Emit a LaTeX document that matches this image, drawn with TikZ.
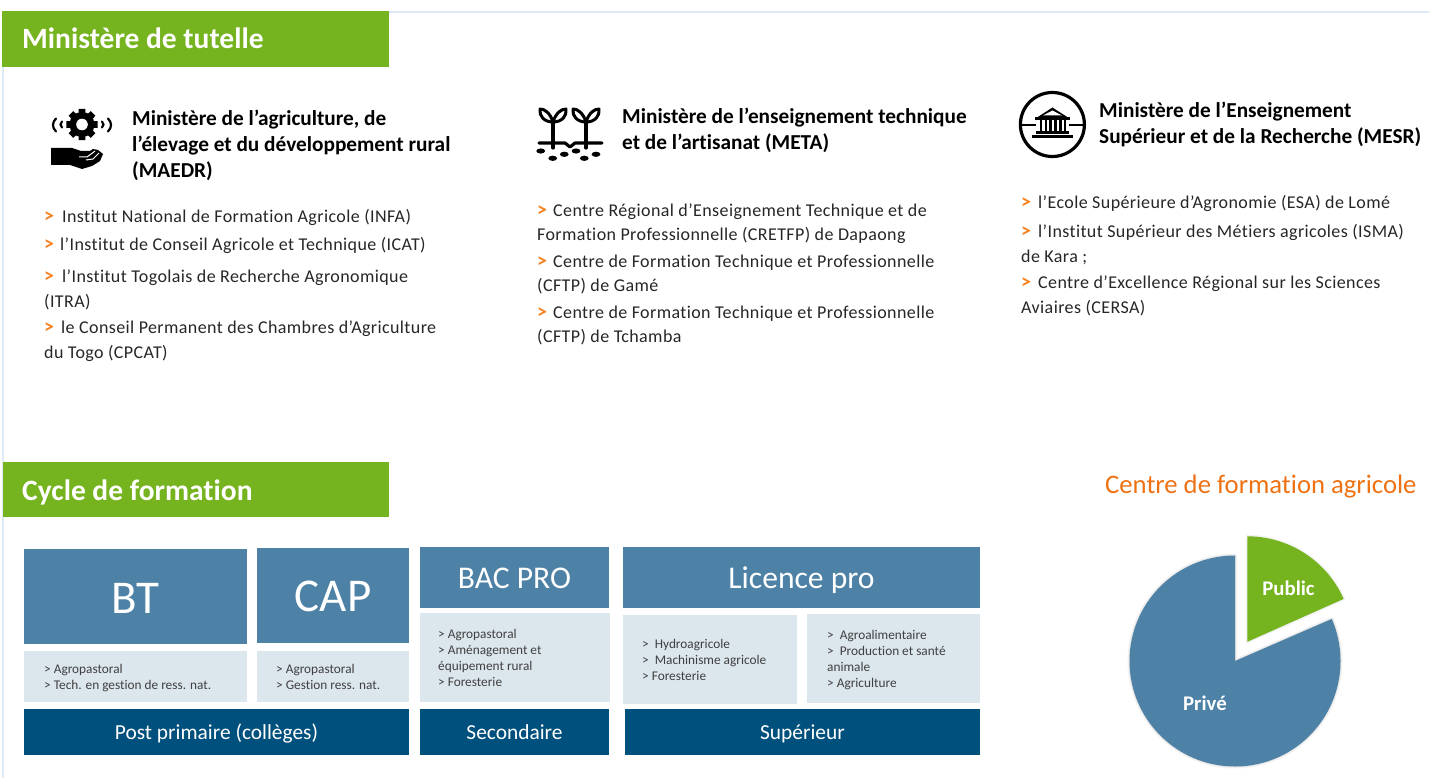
\documentclass[tikz,border=0pt]{standalone}
\usepackage{fontspec}
\setmainfont[Ligatures=NoCommon]{Carlito}
\definecolor{gr}{HTML}{75B31F}
\definecolor{mid}{HTML}{4D81A5}
\definecolor{lt}{HTML}{DCE6ED}
\definecolor{dk}{HTML}{00507D}
\definecolor{org}{HTML}{F58220}
\definecolor{ttl}{HTML}{EE7214}
\definecolor{rule}{HTML}{DEEBF7}
\definecolor{ink}{HTML}{262626}
\definecolor{inks}{HTML}{404040}
\newcommand{\fs}[1]{\fontsize{#1}{#1}\selectfont}
\newcommand{\gt}[1]{\makebox[#1pt][l]{\textcolor{org}{\fs{20}\bfseries >}}}
\tikzset{x=1pt,y=-1pt,
 every node/.style={inner sep=0pt},
 txt/.style={anchor=base west,text=ink,font=\fs{18}\addfontfeature{LetterSpace=2.2},yshift=-0.5pt},
 head/.style={anchor=base west,text=black,font=\fs{21.3}\bfseries,yshift=-1pt},
 small/.style={anchor=base west,text=inks,font=\fs{13.3}},
 banner/.style={anchor=base west,text=white,font=\fs{29.5}\bfseries,yshift=-1pt},
 big/.style={text=white,font=\fs{47},text height=32pt,text depth=0pt},
 mids/.style={text=white,font=\fs{31.6},text height=22pt,text depth=0pt},
 low/.style={text=white,font=\fs{21.4},text height=17pt,text depth=2pt},
 pie/.style={text=white,font=\fs{20.8}\bfseries,anchor=base},
 ico/.style={line width=3.2pt,draw=black,line cap=round,line join=round}
}
\begin{document}
\begin{tikzpicture}
\useasboundingbox (0,0) rectangle (1429,778);
% rules
\fill[rule] (389,11) rectangle (1429,13);
\fill[rule] (2,67) rectangle (4,778);
% banners
\fill[gr] (2,11) rectangle (389,67);
\fill[gr] (3,462) rectangle (389,517);
\node[banner] (t1) at (22,48) {Ministère de tutelle};
\node[banner] (t2) at (22,499) {Cycle de formation};
% column 1
\node[head] (h11) at (132,125) {Ministère de l’agriculture, de};
\node[head] (h12) at (132,151) {l’élevage et du développement rural};
\node[head] (h13) at (132,177) {(MAEDR)};
\node[txt] (a1) at (44,222) {\gt{18}Institut National de Formation Agricole (INFA)};
\node[txt] (a2) at (44,250) {\gt{16}l’Institut de Conseil Agricole et Technique (ICAT)};
\node[txt] (a3) at (44,282) {\gt{18}l’Institut Togolais de Recherche Agronomique};
\node[txt] (a4) at (44,307) {(ITRA)};
\node[txt] (a5) at (44,333) {\gt{17}le Conseil Permanent des Chambres d’Agriculture};
\node[txt] (a6) at (44,358) {du Togo (CPCAT)};
% column 2
\node[head] (h21) at (622,123) {Ministère de l’enseignement technique};
\node[head] (h22) at (622,149) {et de l’artisanat (META)};
\node[txt] (b1) at (537,216) {\gt{16}Centre Régional d’Enseignement Technique et de};
\node[txt] (b2) at (537,240) {Formation Professionnelle (CRETFP) de Dapaong};
\node[txt] (b3) at (537,267) {\gt{16}Centre de Formation Technique et Professionnelle};
\node[txt] (b4) at (537,291) {(CFTP) de Gamé};
\node[txt] (b5) at (537,318) {\gt{16}Centre de Formation Technique et Professionnelle};
\node[txt] (b6) at (537,342) {(CFTP) de Tchamba};
% column 3
\node[head] (h31) at (1099,117) {Ministère de l’Enseignement};
\node[head] (h32) at (1099,143) {Supérieur et de la Recherche (MESR)};
\node[txt] (c1) at (1021,208) {\gt{17}l’Ecole Supérieure d’Agronomie (ESA) de Lomé};
\node[txt] (c2) at (1021,237) {\gt{17}l’Institut Supérieur des Métiers agricoles (ISMA)};
\node[txt] (c3) at (1021,262) {de Kara ;};
\node[txt] (c4) at (1021,288) {\gt{17}Centre d’Excellence Régional sur les Sciences};
\node[txt] (c5) at (1021,313) {Aviaires (CERSA)};
% icon 1
\begin{scope}[shift={(82,124.5)}]
 \foreach \a in {0,45,...,315}{ \fill (\a-18:11pt) -- (\a-12:16pt) -- (\a+12:16pt) -- (\a+18:11pt) -- cycle; }
 \fill (0,0) circle[radius=12.5pt];
 \fill[white] (0,0) circle[radius=5.8pt];
 \draw[line width=2.2pt,line cap=round] (-26,-6) .. controls (-30,-2) and (-30,3) .. (-26,7);
 \draw[line width=2.2pt,line cap=round] (-20,-3) .. controls (-22,-1) and (-22,1) .. (-20,3);
 \draw[line width=2.2pt,line cap=round] (26,-6) .. controls (30,-2) and (30,3) .. (26,7);
 \draw[line width=2.2pt,line cap=round] (20,-3) .. controls (22,-1) and (22,1) .. (20,3);
\end{scope}
\fill (51,148) -- (72,148) -- (81,151) -- (90,151) -- (93,149) -- (98,150) -- (103,154)
 -- (100,161) -- (92,166) -- (82,169) -- (70,165) -- (51,165) -- cycle;
\draw[white,line width=1pt] (79,157) -- (87,157) -- (95,151);
\draw[white,line width=1pt] (86,160) -- (93,159) -- (99,153);
% icon 2
\draw[ico] (539,143) -- (565,143) -- (570,147) -- (575,143) -- (602,143);
\foreach \cx in {553,586}{
 \draw[ico] (\cx,122) -- (\cx,148);
 \draw[ico,line width=3pt] (\cx,122) .. controls (\cx-3,113) and (\cx-8,109) .. (\cx-13,109) .. controls (\cx-14,116) and (\cx-9,122) .. (\cx,122);
 \draw[ico,line width=3pt] (\cx,122) .. controls (\cx+3,113) and (\cx+8,109) .. (\cx+13,109) .. controls (\cx+14,116) and (\cx+9,122) .. (\cx,122);
}
\foreach \dx/\dy in {540.7/151,552.7/158.3,564.3/154.3,576/151,584.3/158.3,596/154.3}{
 \fill (\dx,\dy) ellipse[x radius=4.4pt,y radius=2.6pt];
}
% icon 3
\draw[line width=3.2pt] (1052.4,124.5) circle[radius=32pt];
\fill (1020,124) rectangle (1085,126.5);
\fill[white] (1036,118) rectangle (1069,132);
\fill (1037,117.5) -- (1052.4,107.5) -- (1068,117.5) -- cycle;
\fill[white] (1043,115.5) -- (1052.4,110.5) -- (1062,115.5) -- cycle;
\fill (1035,117.5) rectangle (1070,120.5);
\foreach \cx in {1041,1045.8,1050.6,1055.4,1060.2,1065}{ \fill (\cx-1.3,120) rectangle (\cx+1.3,131); }
\fill (1036,131) rectangle (1069,134);
\fill (1032,135) rectangle (1073,138.5);
% cycle boxes
\node[fill=mid,big,text height=34pt,minimum width=223pt,minimum height=95pt] (bt) at (135.5,596.5) {BT};
\node[fill=mid,big,minimum width=152pt,minimum height=95pt] (cap) at (333,595.5) {CAP};
\node[fill=mid,mids,minimum width=189pt,minimum height=61pt] (bac) at (514.5,577.5) {BAC PRO};
\node[fill=mid,mids,minimum width=357pt,minimum height=61pt] (lic) at (801.5,577.5) {Licence pro};
\fill[lt] (24,651) rectangle (247,702);
\fill[lt] (257,651) rectangle (409,702);
\fill[lt] (420,613) rectangle (610,702);
\fill[lt] (623,615) rectangle (797,704);
\fill[lt] (807,614) rectangle (980,703);
\node[fill=dk,low,minimum width=385pt,minimum height=46pt] (pp) at (216.5,732) {Post primaire (collèges)};
\node[fill=dk,low,minimum width=189pt,minimum height=46pt] (sec) at (514.5,732) {Secondaire};
\node[fill=dk,low,minimum width=355pt,minimum height=46pt] (sup) at (802.5,732) {Supérieur};
\node[small] (s1) at (44,673) {> Agropastoral};
\node[small] (s2) at (44,689) {> Tech. en gestion de ress. nat.};
\node[small] (s3) at (276,673) {> Agropastoral};
\node[small] (s4) at (276,689) {> Gestion ress. nat.};
\node[small] (s5) at (438,638) {> Agropastoral};
\node[small] (s6) at (438,654) {> Aménagement et};
\node[small] (s7) at (438,670) {équipement rural};
\node[small] (s8) at (438,686) {> Foresterie};
\node[small] (s9) at (642,648) {>\ \ Hydroagricole};
\node[small] (s10) at (642,664) {>\ \ Machinisme agricole};
\node[small] (s11) at (642,680) {> Foresterie};
\node[small] (s12) at (827,639) {>\ \ Agroalimentaire};
\node[small] (s13) at (827,655) {>\ \ Production et santé};
\node[small] (s14) at (827,671) {animale};
\node[small] (s15) at (827,687) {> Agriculture};
% pie
\node[anchor=base west,text=ttl,font=\fs{26.7}] (pt) at (1105,493.5) {Centre de formation agricole};
\draw[black!5,line width=4pt,line join=round] (1235,661) -- (1235,555.5) arc[start angle=90,end angle=383.5,radius=105.5pt] -- cycle;
\draw[black!10,line width=1.5pt,line join=round] (1235,661) -- (1235,555.5) arc[start angle=90,end angle=383.5,radius=105.5pt] -- cycle;
\fill[mid] (1235,661) -- (1235,555.5) arc[start angle=90,end angle=383.5,radius=105.5pt] -- cycle;
\draw[black!5,line width=3pt,line join=round] (1247.3,641.8) -- (1247.3,536.3) arc[start angle=90,end angle=24,radius=105.5pt] -- cycle;
\fill[gr] (1247.3,641.8) -- (1247.3,536.3) arc[start angle=90,end angle=24,radius=105.5pt] -- cycle;
\node[pie] (pub) at (1288.5,595) {Public};
\node[pie] (pri) at (1205,710) {Privé};
\end{tikzpicture}
\end{document}
